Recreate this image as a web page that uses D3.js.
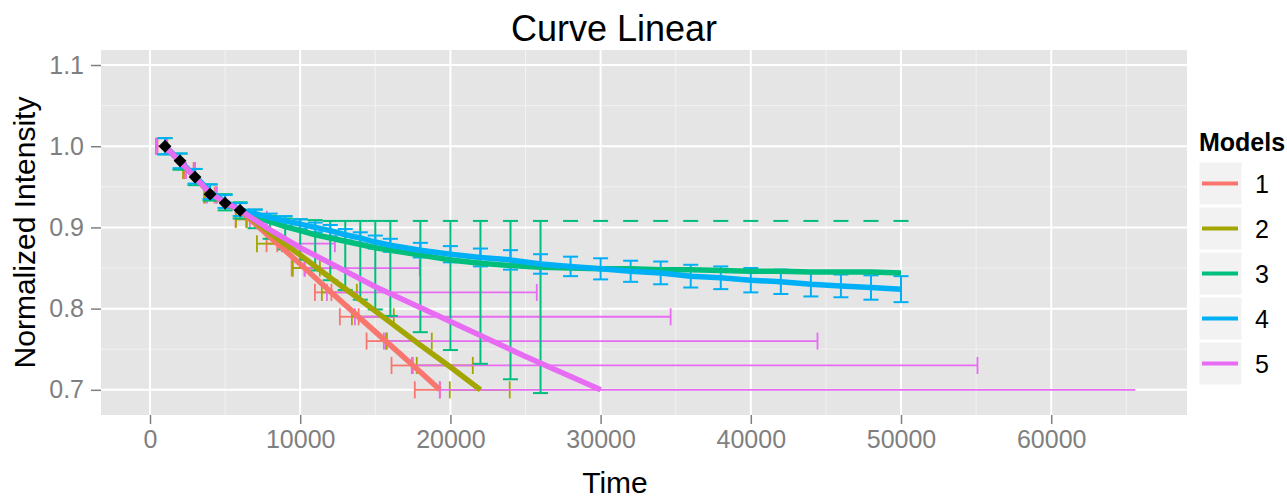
<!DOCTYPE html>
<html><head><meta charset="utf-8">
<script src="https://cdn.jsdelivr.net/npm/d3@7/dist/d3.min.js"></script>
<style>
body{margin:0;background:#fff;}
text{font-family:"Liberation Sans",Arial,sans-serif;}
</style></head><body><svg id="c" width="1287" height="498"></svg>
<script>
// ---------- text ----------
const titleText = "Curve Linear";
const xTitleText = "Time";
const yTitleText = "Normalized Intensity";
const legendTitleText = "Models";
const modelNames = ["1","2","3","4","5"];
const modelColors = ["#F8766D","#A3A500","#00BF7D","#00B0F6","#E76BF3"];

// ---------- ticks ----------
const xTicks = [0,10000,20000,30000,40000,50000,60000];
const xMinor = [5000,15000,25000,35000,45000,55000,65000];
const yTicks = [0.7,0.8,0.9,1.0,1.1];
const yMinor = [0.75,0.85,0.95,1.05];

// ---------- observed points ----------
const obsTime  = [1000,2000,3000,4000,5000,6000];
const obsValue = [1.000,0.982,0.962,0.941,0.930,0.921];

// ---------- model curves ----------
const line1Time  = [1000,2000,3000,4000,5000,6000,8000,10000,12000,14000,16000,18000,19300];
const line1Value = [1.000,0.981,0.962,0.942,0.931,0.921,0.888,0.855,0.821,0.788,0.755,0.722,0.700];
const line2Time  = [1000,2000,3000,4000,5000,6000,8000,10000,12000,14000,16000,18000,20000,22000];
const line2Value = [1.000,0.981,0.962,0.942,0.931,0.921,0.893,0.866,0.838,0.811,0.783,0.755,0.728,0.700];
const line5Time  = [1000,2000,3000,4000,5000,6000,8000,10000,12000,15000,20000,25000,30000];
const line5Value = [1.000,0.981,0.962,0.942,0.931,0.921,0.897,0.875,0.856,0.827,0.784,0.741,0.700];

// models 3 and 4: curve sampled at their error-bar times
const vbarTime = [1000,2000,3000,4000,5000,6000,7000,8000,9000,10000,11000,12000,13000,14000,15000,16000,
                  18000,20000,22000,24000,26000,28000,30000,32000,34000,36000,38000,40000,42000,44000,46000,48000,50000];
const line3Value = [1.000,0.981,0.962,0.943,0.931,0.921,0.914,0.907,0.901,0.896,0.891,0.887,0.883,0.879,0.875,0.872,
                    0.866,0.860,0.856,0.853,0.851,0.850,0.849,0.849,0.848,0.848,0.847,0.846,0.846,0.845,0.845,0.845,0.844];
const bar3Lower  = [0.990,0.971,0.952,0.933,0.921,0.911,0.899,0.886,0.873,0.860,0.847,0.835,0.823,0.811,0.799,0.791,
                    0.771,0.749,0.732,0.713,0.696,null,null,null,null,null,null,null,null,null,null,null,null];
const bar3Upper  = [1.010,0.991,0.972,0.953,0.941,0.931,0.922,0.914,0.911,0.910,0.909,0.908,0.908,0.908,0.908,0.908,
                    0.908,0.908,0.908,0.908,0.908,0.908,0.908,0.908,0.908,0.908,0.908,0.908,0.908,0.908,0.908,0.908,0.908];
const line4Value = [1.000,0.982,0.963,0.944,0.932,0.922,0.917,0.912,0.908,0.904,0.900,0.896,0.891,0.887,0.882,0.878,
                    0.872,0.867,0.863,0.860,0.855,0.852,0.849,0.846,0.844,0.840,0.838,0.835,0.833,0.830,0.828,0.826,0.824];
const bar4Lower  = [0.990,0.973,0.954,0.935,0.924,0.914,0.912,0.907,0.902,0.898,0.894,0.889,0.884,0.880,0.874,0.870,
                    0.863,0.857,0.852,0.848,0.843,0.840,0.836,0.833,0.830,0.826,0.824,0.820,0.818,0.815,0.814,0.811,0.808];
const bar4Upper  = [1.010,0.991,0.972,0.953,0.940,0.930,0.922,0.917,0.914,0.910,0.906,0.903,0.898,0.894,0.890,0.886,
                    0.881,0.877,0.874,0.872,0.867,0.864,0.862,0.859,0.858,0.854,0.852,0.850,0.848,0.845,0.842,0.841,0.840];

// ---------- horizontal (time) error bars of models 1, 2, 5 ----------
const hbarLevel = [1.00,0.97,0.94,0.91,0.88,0.85,0.82,0.79,0.76,0.73,0.70];
const hbar1Left  = [500,2300,3700,5700,7760,9430,10980,12640,14420,16080,17630];
const hbar1Right = [1100,2900,4300,6400,8470,10280,12080,13890,15700,17500,19300];
const hbar2Left  = [400,2200,3600,5720,7120,9510,11440,13440,15770,17760,19960];
const hbar2Right = [1150,3000,4450,6450,8780,11310,13770,16230,18760,21490,23950];
const hbar5Left  = [450,2400,3800,6650,8980,10310,11780,13640,15570,17430,19290];
const hbar5Right = [1100,3000,4400,7780,12310,17960,25750,34660,44440,55090,65600];
const hbar5RightCap = [true,true,true,true,true,true,true,true,true,true,false];

// ---------- build ----------
const svg = d3.select("#c");
const x = d3.scaleLinear().domain([-3262, 69040]).range([101, 1187]);
const y = d3.scaleLinear().domain([0.669, 1.1185]).range([415, 50]);
const col = d3.scaleOrdinal().domain(modelNames).range(modelColors);

// panel
svg.append("rect").attr("x",x.range()[0]).attr("y",y.range()[1])
  .attr("width",x.range()[1]-x.range()[0]).attr("height",y.range()[0]-y.range()[1])
  .attr("fill","#E5E5E5");
const grid = svg.append("g");
grid.selectAll(".xm").data(xMinor).join("line")
  .attr("x1",d=>x(d)).attr("x2",d=>x(d)).attr("y1",y.range()[0]).attr("y2",y.range()[1])
  .attr("stroke","#F2F2F2").attr("stroke-width",1);
grid.selectAll(".ym").data(yMinor).join("line")
  .attr("y1",d=>y(d)).attr("y2",d=>y(d)).attr("x1",x.range()[0]).attr("x2",x.range()[1])
  .attr("stroke","#F2F2F2").attr("stroke-width",1);
grid.selectAll(".xM").data(xTicks).join("line")
  .attr("x1",d=>x(d)).attr("x2",d=>x(d)).attr("y1",y.range()[0]).attr("y2",y.range()[1])
  .attr("stroke","#FFFFFF").attr("stroke-width",2);
grid.selectAll(".yM").data(yTicks).join("line")
  .attr("y1",d=>y(d)).attr("y2",d=>y(d)).attr("x1",x.range()[0]).attr("x2",x.range()[1])
  .attr("stroke","#FFFFFF").attr("stroke-width",2);

// axes
const xAxis = svg.append("g").attr("transform",`translate(0,${y.range()[0]})`)
  .call(d3.axisBottom(x).tickValues(xTicks).tickFormat(d3.format("d")).tickSize(9).tickPadding(6));
const yAxis = svg.append("g").attr("transform",`translate(${x.range()[0]},0)`)
  .call(d3.axisLeft(y).tickValues(yTicks).tickFormat(d3.format(".1f")).tickSize(10).tickPadding(7));
[xAxis,yAxis].forEach(a=>{
  a.select(".domain").remove();
  a.selectAll(".tick line").attr("stroke","#7F7F7F").attr("stroke-width",1.5);
  a.selectAll(".tick text").attr("fill","#7F7F7F").attr("font-size",25)
   .attr("font-family","'Liberation Sans',Arial,sans-serif");
});

const capH = 0.0105;   // half height of horizontal-bar caps (data units)
const capW = 500;      // half width of vertical-bar caps (data units)

// horizontal error bars
const hbars = [
  {m:"1", left:hbar1Left, right:hbar1Right, rcap:null},
  {m:"2", left:hbar2Left, right:hbar2Right, rcap:null},
  {m:"5", left:hbar5Left, right:hbar5Right, rcap:hbar5RightCap}
];
const gh = svg.append("g").attr("fill","none").attr("stroke-width",1.8);
hbars.forEach(h=>{
  const g = gh.append("g").attr("stroke",col(h.m));
  hbarLevel.forEach((lv,i)=>{
    g.append("line").attr("x1",x(h.left[i])).attr("x2",x(h.right[i])).attr("y1",y(lv)).attr("y2",y(lv));
    g.append("line").attr("x1",x(h.left[i])).attr("x2",x(h.left[i])).attr("y1",y(lv-capH)).attr("y2",y(lv+capH));
    if(!h.rcap || h.rcap[i])
      g.append("line").attr("x1",x(h.right[i])).attr("x2",x(h.right[i])).attr("y1",y(lv-capH)).attr("y2",y(lv+capH));
  });
});

// vertical error bars
const vbars = [
  {m:"3", lo:bar3Lower, hi:bar3Upper},
  {m:"4", lo:bar4Lower, hi:bar4Upper}
];
const gv = svg.append("g").attr("fill","none").attr("stroke-width",2);
vbars.forEach(v=>{
  const g = gv.append("g").attr("stroke",col(v.m));
  vbarTime.forEach((t,i)=>{
    const hi = v.hi[i], lo = v.lo[i];
    g.append("line").attr("x1",x(t-capW)).attr("x2",x(t+capW)).attr("y1",y(hi)).attr("y2",y(hi));
    if(lo!==null){
      g.append("line").attr("x1",x(t)).attr("x2",x(t)).attr("y1",y(hi)).attr("y2",y(lo));
      g.append("line").attr("x1",x(t-capW)).attr("x2",x(t+capW)).attr("y1",y(lo)).attr("y2",y(lo));
    }
  });
});

// model curves
const curves = [
  {m:"1", t:line1Time, v:line1Value},
  {m:"2", t:line2Time, v:line2Value},
  {m:"3", t:vbarTime,  v:line3Value},
  {m:"4", t:vbarTime,  v:line4Value},
  {m:"5", t:line5Time, v:line5Value}
];
const lineGen = d3.line().x(d=>x(d[0])).y(d=>y(d[1]));
svg.append("g").selectAll("path").data(curves).join("path")
  .attr("d",c=>lineGen(c.t.map((t,i)=>[t,c.v[i]])))
  .attr("fill","none").attr("stroke",c=>col(c.m)).attr("stroke-width",5.5)
  .attr("stroke-linejoin","round");

// observed points (diamonds)
const diamond = d3.symbol().type(d3.symbolSquare).size(82);
svg.append("g").selectAll("path").data(obsTime.map((t,i)=>[t,obsValue[i]])).join("path")
  .attr("d",diamond)
  .attr("transform",d=>`translate(${x(d[0])},${y(d[1])}) rotate(45)`)
  .attr("fill","#000");

// titles
svg.append("text").attr("x",614).attr("y",41).attr("text-anchor","middle")
  .attr("font-size",36).attr("fill","#000").text(titleText);
svg.append("text").attr("x",615).attr("y",493).attr("text-anchor","middle")
  .attr("font-size",30).attr("fill","#000").text(xTitleText);
svg.append("text").attr("transform",`translate(35,${(y.range()[0]+y.range()[1])/2}) rotate(-90)`)
  .attr("text-anchor","middle").attr("font-size",30).attr("fill","#000").text(yTitleText);

// legend
const lg = svg.append("g");
lg.append("text").attr("x",1199).attr("y",151).attr("font-size",25).attr("font-weight","bold")
  .attr("fill","#000").text(legendTitleText);
const rows = lg.selectAll("g.row").data(modelNames).join("g")
  .attr("transform",(d,i)=>`translate(1199,${162+45*i})`);
rows.append("rect").attr("width",43).attr("height",43).attr("fill","#F2F2F2")
  .attr("stroke","#FFFFFF").attr("stroke-width",1);
rows.append("line").attr("x1",3).attr("x2",39).attr("y1",21.5).attr("y2",21.5)
  .attr("stroke",d=>col(d)).attr("stroke-width",4);
rows.append("text").attr("x",56).attr("y",21.5).attr("dy","0.36em").attr("font-size",25)
  .attr("fill","#000").text(d=>d);
</script></body></html>
